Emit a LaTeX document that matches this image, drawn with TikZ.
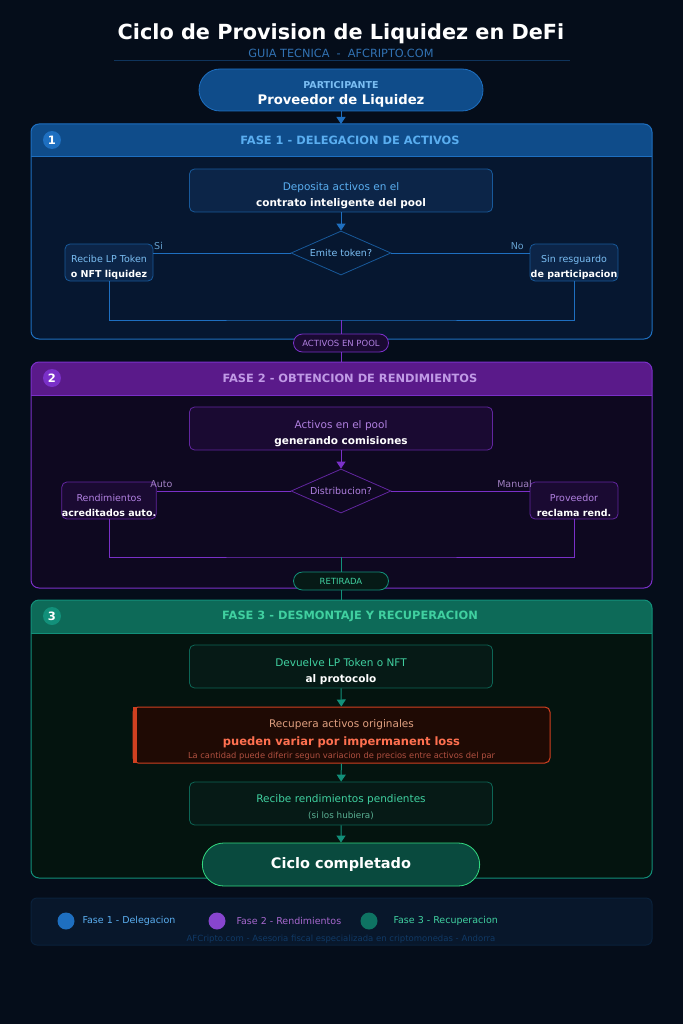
\documentclass[tikz,border=0pt]{standalone}
\usepackage{fontspec}
\setmainfont{DejaVu Sans}
\usetikzlibrary{shapes.geometric,shapes.misc,arrows.meta}
\definecolor{bgdark}{HTML}{050D1A}
\definecolor{bluehead}{HTML}{0F4C8A}
\definecolor{bluebody}{HTML}{061730}
\definecolor{blueline}{HTML}{1E6FC0}
\definecolor{bluetext}{HTML}{5AAEF0}
\definecolor{bluebox}{HTML}{0C2548}
\definecolor{purphead}{HTML}{5A1A8A}
\definecolor{purpbody}{HTML}{0E0820}
\definecolor{purpline}{HTML}{7A30C8}
\definecolor{purptext}{HTML}{B080E0}
\definecolor{purpbox}{HTML}{1A0A32}
\definecolor{greenhead}{HTML}{0D6A58}
\definecolor{greenbody}{HTML}{04140F}
\definecolor{greenline}{HTML}{12907A}
\definecolor{greentext}{HTML}{40D0A0}
\definecolor{greenbox}{HTML}{061A16}
\definecolor{warnfill}{HTML}{1F0A04}
\definecolor{warnline}{HTML}{D04020}
\newcommand{\lift}[1]{\rule{0pt}{#1pt}}
\newcommand{\phaseframe}[6]{%
  \fill[#5,rounded corners=8pt] (31,#1) rectangle (652,#2);
  \fill[#4,rounded corners=8pt] (31,#1) rectangle (652,#1+33);
  \fill[#4] (31,#1+20) rectangle (652,#1+33);
  \draw[#6,line width=1pt] (31,#1+33) -- (652,#1+33);
  \draw[#6,line width=1pt,rounded corners=8pt] (31,#1) rectangle (652,#2);
  \fill[#6] (52,#1+16) circle (9);
  \node[text=white,font=\bfseries\fontsize{11.5}{12}\selectfont] at (52,#1+16) {#3};
}

\begin{document}
\begin{tikzpicture}[x=1pt,y=-1pt]
    \tikzstyle{pill} = [rounded rectangle, draw, line width=0.8pt, minimum width=284pt, minimum height=42pt, align=center]
    \tikzstyle{stepbox} = [rectangle, rounded corners=5pt, draw, line width=0.8pt, minimum width=303pt, minimum height=43pt, inner sep=0pt, align=center, font=\fontsize{10.5}{16}\selectfont]
    \tikzstyle{side} = [rectangle, rounded corners=5pt, draw, line width=0.8pt, minimum width=88pt, minimum height=37pt, inner sep=0pt, align=center, font=\fontsize{9.5}{15}\selectfont]
    \tikzstyle{ask} = [diamond, draw, line width=0.8pt, minimum width=100pt, minimum height=44pt, aspect=2.3, inner sep=0pt, font=\fontsize{9.5}{11}\selectfont]
    \tikzstyle{tag} = [rounded rectangle, draw, line width=0.8pt, minimum width=97pt, minimum height=18pt, inner sep=1pt, font=\fontsize{8.5}{9}\selectfont]
    \tikzstyle{arr} = [-{Triangle[length=7pt,width=9pt]}, line width=1pt]
    \tikzstyle{lab} = [font=\fontsize{9.5}{10}\selectfont]

    % Background
    \fill[bgdark] (0,0) rectangle (683,1024);
    \useasboundingbox (0,0) rectangle (683,1024);

    % Title
    \node[text=white,font=\bfseries\fontsize{20.8}{22}\selectfont] (title) at (341,34) {Ciclo de Provision de Liquidez en DeFi};
    \node[text=blueline!80!gray,font=\fontsize{11.3}{12}\selectfont] (sub) at (341,53) {GUIA TECNICA \ - \ AFCRIPTO.COM};
    \draw[blueline!40!bgdark,line width=1pt] (114,61) -- (570,61);

    % Participant
    \node[pill, fill=bluehead, draw=blueline, inner sep=0pt] (lp) at (341,90) {{\color{bluetext!80!white}\bfseries\fontsize{9.5}{10}\selectfont\lift{15}PARTICIPANTE}\\[4pt]{\color{white}\bfseries\fontsize{13.2}{14}\selectfont Proveedor de Liquidez}};

    % Phase frames
    \phaseframe{124}{339}{1}{bluehead}{bluebody}{blueline}
    \phaseframe{362}{588}{2}{purphead}{purpbody}{purpline}
    \phaseframe{600}{878}{3}{greenhead}{greenbody}{greenline}
    \node[text=bluetext,font=\bfseries\fontsize{11.4}{12}\selectfont] (h1) at (350,140) {FASE 1 - DELEGACION DE ACTIVOS};
    \node[text=purptext!80!white,font=\bfseries\fontsize{11.4}{12}\selectfont] (h2) at (350,378) {FASE 2 - OBTENCION DE RENDIMIENTOS};
    \node[text=greentext,font=\bfseries\fontsize{11.4}{12}\selectfont] (h3) at (350,616) {FASE 3 - DESMONTAJE Y RECUPERACION};

    % Phase 1
    \node[stepbox, fill=bluebox, draw=blueline!80!black] (dep) at (341,190.5) {{\color{bluetext}\lift{19}Deposita activos en el}\\{\color{white}\bfseries contrato inteligente del pool}};
    \node[ask, fill=bluebody, draw=blueline!80!black, text=bluetext!80!white] (emit) at (341,253) {Emite token?};
    \node[side, fill=bluebox, draw=blueline!80!black] (lpt) at (109,262.5) {{\color{bluetext!80!white}\lift{17}Recibe LP Token}\\{\color{white}\bfseries o NFT liquidez}};
    \node[side, fill=bluebox, draw=blueline!80!black] (nores) at (574,262.5) {{\color{bluetext!80!white}\lift{17}Sin resguardo}\\{\color{white}\bfseries de participacion}};
    \coordinate (m1) at (341,320);
    \node[tag, fill=purpbox, draw=purpline, text=purptext] (pool) at (341,343) {ACTIVOS EN POOL};

    % Phase 2
    \node[stepbox, fill=purpbox, draw=purpline!80!black] (gen) at (341,428.5) {{\color{purptext}\lift{19}Activos en el pool}\\{\color{white}\bfseries generando comisiones}};
    \node[ask, fill=purpbody, draw=purpline!80!black, text=purptext] (dist) at (341,491) {Distribucion?};
    \node[side, fill=purpbox, draw=purpline!80!black] (auto) at (109,500.5) {{\color{purptext}\lift{17}Rendimientos}\\{\color{white}\bfseries acreditados auto.}};
    \node[side, fill=purpbox, draw=purpline!80!black] (claim) at (574,500.5) {{\color{purptext}\lift{17}Proveedor}\\{\color{white}\bfseries reclama rend.}};
    \coordinate (m2) at (341,557);
    \node[tag, fill=greenbox, draw=greenline, text=greentext] (out) at (341,581) {RETIRADA};

    % Phase 3
    \node[stepbox, fill=greenbox, draw=greenline!70!black] (ret) at (341,666.5) {{\color{greentext}\lift{19}Devuelve LP Token o NFT}\\{\color{white}\bfseries al protocolo}};
    \node[rectangle, rounded corners=5pt, draw=warnline, fill=warnfill, line width=1pt, minimum width=417pt, minimum height=56pt, inner sep=0pt, align=center] (warn) at (341.5,735) {{\color[HTML]{E0A080}\fontsize{10.5}{12}\selectfont\lift{18}Recupera activos originales}\\[6pt]{\color[HTML]{FF7050}\bfseries\fontsize{11.5}{13}\selectfont pueden variar por impermanent loss}\\[1pt]{\color[HTML]{B05040}\fontsize{8.3}{9}\selectfont La cantidad puede diferir segun variacion de precios entre activos del par}};
    \fill[warnline] (warn.north west) ++(0,0.5) rectangle ([xshift=4pt,yshift=0.5pt]warn.south west);
    \node[stepbox, fill=greenbox, draw=greenline!70!black] (pend) at (341,803.5) {{\color{greentext}\lift{16}Recibe rendimientos pendientes}\\{\color{greentext!60!gray}\fontsize{8.8}{10}\selectfont (si los hubiera)}};
    \node[pill, fill=greenhead!70!black, draw=greentext!80!green, minimum height=43pt] (done) at (341,864.5) {\color{white}\bfseries\fontsize{14.5}{15}\selectfont Ciclo completado};

    % Connections
    \draw[arr, blueline] (lp) -- (lp |- 0,124);
    \draw[arr, blueline] (dep) -- (emit);
    \draw[blueline, line width=1pt] (emit.west) -- (emit.west -| lpt.east) node[lab, text=bluetext!70!gray, pos=1, above right, xshift=-3pt] {Si};
    \draw[blueline, line width=1pt] (emit.east) -- (emit.east -| nores.west) node[lab, text=bluetext!70!gray, pos=1, above left, xshift=-2pt] {No};
    \draw[blueline, line width=1pt] (lpt) |- (m1) -| (nores);
    \draw[purpline, line width=1pt] (m1) -- (pool);
    \draw[purpline, line width=1pt] (pool) -- (pool |- 0,362);
    \draw[arr, purpline] (gen) -- (dist);
    \draw[purpline, line width=1pt] (dist.west) -- (dist.west -| auto.east) node[lab, text=purptext!70!gray, pos=1, above right, xshift=-10pt] {Auto};
    \draw[purpline, line width=1pt] (dist.east) -- (dist.east -| claim.west) node[lab, text=purptext!70!gray, pos=1, above left, xshift=6pt] {Manual};
    \draw[purpline, line width=1pt] (auto) |- (m2) -| (claim);
    \draw[greenline, line width=1pt] (m2) -- (out);
    \draw[greenline, line width=1pt] (out) -- (out |- 0,600);
    \draw[arr, greenline] (ret) -- (warn);
    \draw[arr, greenline] (warn) -- (pend);
    \draw[arr, greenline] (pend) -- (done);

    % Legend
    \draw[fill=bgdark!90!blueline, draw=blueline!20!bgdark, rounded corners=6pt, line width=1pt] (31,898) rectangle (652,945);
    \fill[blueline] (66,921) circle (8.5);
    \fill[purpline!90!white] (217,921) circle (8.5);
    \fill[greenline!80!black] (369,921) circle (8.5);
    \node[lab, anchor=west, text=bluetext] (k1) at (79,921) {Fase 1 - Delegacion};
    \node[lab, anchor=west, text=purptext!80!violet] (k2) at (233,921) {Fase 2 - Rendimientos};
    \node[lab, anchor=west, text=greentext] (k3) at (390,921) {Fase 3 - Recuperacion};
    \node[text=blueline!45!bgdark, font=\fontsize{8.5}{9}\selectfont] (foot) at (341,939) {AFCripto.com - Asesoria fiscal especializada en criptomonedas - Andorra};
\end{tikzpicture}
\end{document}
